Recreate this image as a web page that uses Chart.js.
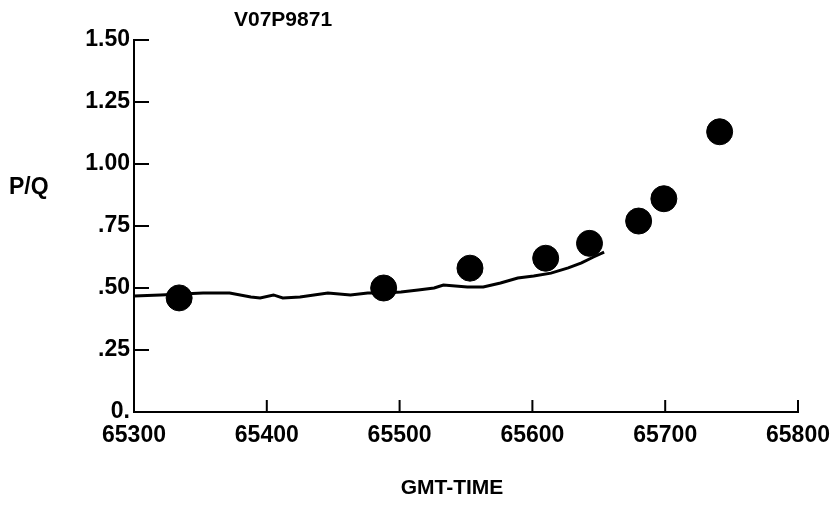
<!DOCTYPE html>
<html>
<head>
<meta charset="utf-8">
<script src="https://cdn.jsdelivr.net/npm/chart.js@4"></script>
<style>
  body { margin: 0; background: #fff; }
</style>
</head>
<body>
<canvas id="myChart" width="831" height="506"></canvas>
<script>
// Datos
const lineaTiempo = [65300, 65320, 65352, 65372, 65388, 65395, 65405, 65412, 65425, 65446, 65463, 65476,
                     65488, 65501, 65514, 65526, 65533, 65551, 65563, 65576, 65589, 65601, 65614, 65627,
                     65637, 65646, 65654];
const lineaPQ = [0.468, 0.472, 0.480, 0.480, 0.464, 0.460, 0.472, 0.460, 0.464, 0.480, 0.472, 0.480,
                 0.480, 0.484, 0.492, 0.500, 0.512, 0.504, 0.504, 0.520, 0.540, 0.548, 0.560, 0.581,
                 0.601, 0.625, 0.645];
const puntosTiempo = [65334, 65488, 65553, 65610, 65643, 65680, 65699, 65741];
const puntosPQ = [0.46, 0.50, 0.58, 0.62, 0.68, 0.77, 0.86, 1.13];
const ticksX = [65300, 65400, 65500, 65600, 65700, 65800];
const ticksY = [0, 0.25, 0.50, 0.75, 1.00, 1.25, 1.50];

const fuente = "'Liberation Sans', Arial, sans-serif";

// Marcas hacia dentro y textos sueltos
const extras = {
    id: "extras",
    afterDraw(chart) {
        const ctx = chart.ctx;
        const x = chart.scales.x, y = chart.scales.y;
        ctx.save();
        ctx.strokeStyle = "#000";
        ctx.lineWidth = 2;
        ctx.beginPath();
        ticksY.slice(1).forEach(v => {
            const py = y.getPixelForValue(v);
            ctx.moveTo(x.left, py);
            ctx.lineTo(x.left + 15, py);
        });
        ticksX.slice(1).forEach(v => {
            const px = x.getPixelForValue(v);
            ctx.moveTo(px, y.bottom);
            ctx.lineTo(px, y.bottom - 12);
        });
        ctx.stroke();

        ctx.fillStyle = "#000";
        ctx.textBaseline = "middle";
        ctx.font = "bold 21px " + fuente;
        ctx.textAlign = "left";
        ctx.fillText("V07P9871", 234, 20);
        ctx.font = "bold 23px " + fuente;
        ctx.fillText("P/Q", 9, 188);
        ctx.font = "bold 21px " + fuente;
        ctx.textAlign = "center";
        ctx.fillText("GMT-TIME", 452, 488);
        ctx.restore();
    }
};

new Chart(document.getElementById("myChart"), {
    type: "scatter",
    data: {
        datasets: [{
            data: puntosTiempo.map((t, i) => ({x: t, y: puntosPQ[i]})),
            backgroundColor: "#000",
            borderColor: "#000",
            pointRadius: 13,
            pointHoverRadius: 13,
            order: 0
        }, {
            data: lineaTiempo.map((t, i) => ({x: t, y: lineaPQ[i]})),
            showLine: true,
            borderColor: "#000",
            borderWidth: 3,
            pointRadius: 0,
            tension: 0,
            order: 1
        }]
    },
    plugins: [extras],
    options: {
        responsive: false,
        animation: false,
        devicePixelRatio: 1,
        layout: { padding: { top: 40, right: 33, left: 0, bottom: 0 } },
        plugins: {
            legend: { display: false },
            tooltip: { enabled: false }
        },
        scales: {
            x: {
                type: "linear",
                min: 65300,
                max: 65800,
                afterFit: s => { s.height = 94; s.paddingRight = 0; },
                afterBuildTicks: s => { s.ticks = ticksX.map(v => ({value: v})); },
                grid: { display: false, drawTicks: false },
                border: { display: true, color: "#000", width: 2 },
                ticks: {
                    color: "#000",
                    padding: 10,
                    maxRotation: 0,
                    font: { family: fuente, size: 23, weight: "bold" },
                    callback: v => String(v)
                }
            },
            y: {
                min: 0,
                max: 1.5,
                afterFit: s => { s.width = 134; },
                afterBuildTicks: s => { s.ticks = ticksY.map(v => ({value: v})); },
                grid: { display: false, drawTicks: false },
                border: { display: true, color: "#000", width: 2 },
                ticks: {
                    color: "#000",
                    padding: 4,
                    font: { family: fuente, size: 23, weight: "bold" },
                    callback: v => v === 0 ? "0." : (v >= 1 ? v.toFixed(2) : v.toFixed(2).slice(1))
                }
            }
        }
    }
});
</script>
</body>
</html>
